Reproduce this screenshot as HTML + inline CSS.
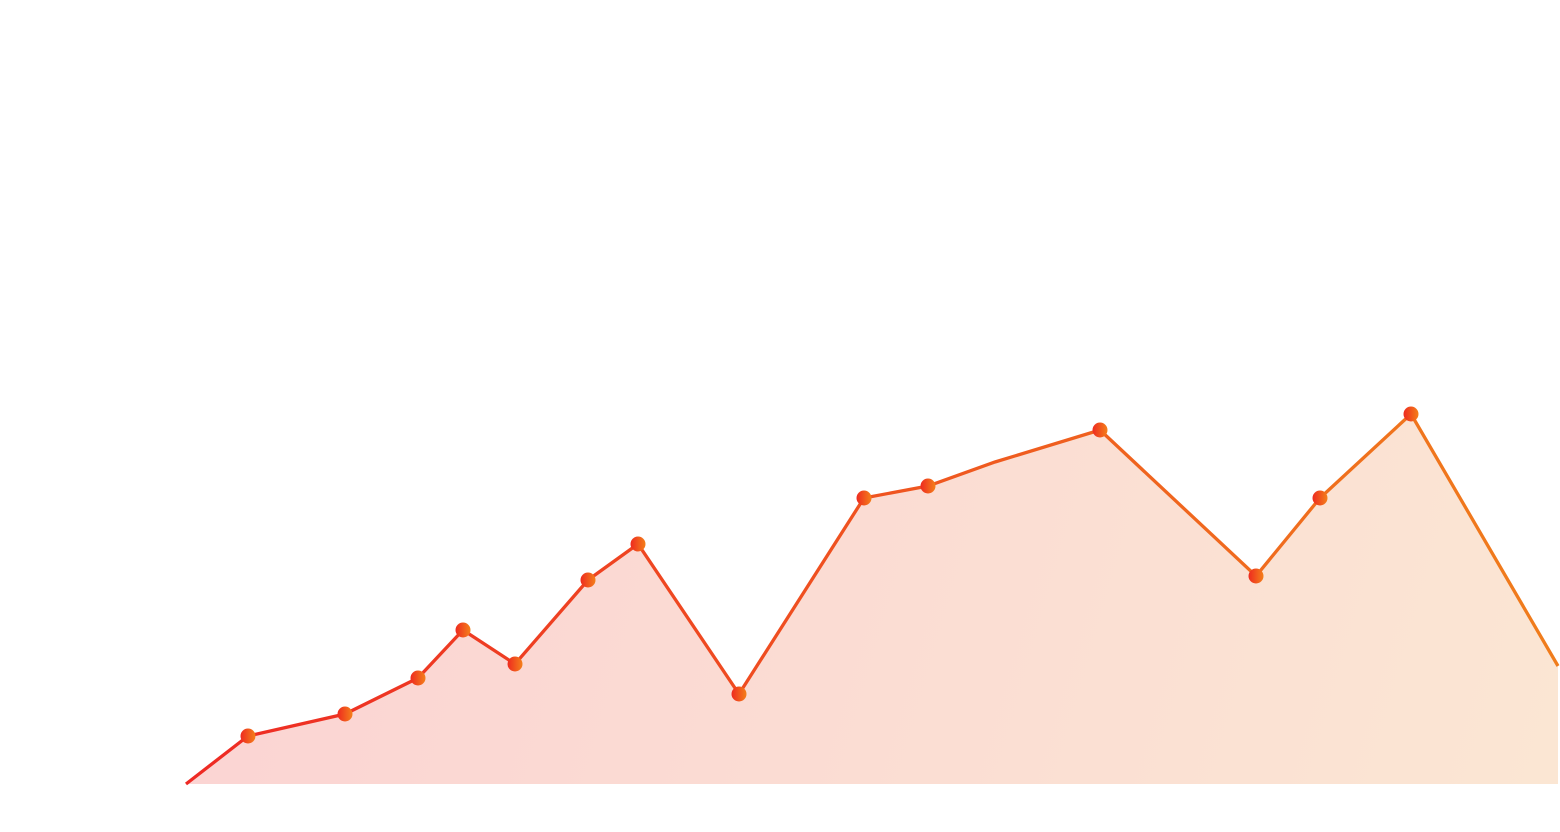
<!DOCTYPE html>
<html><head><meta charset="utf-8"><style>
html,body{margin:0;padding:0;background:#fff;width:1560px;height:832px;overflow:hidden}
svg{display:block}
</style></head><body>
<svg id="chart" width="1560" height="832" viewBox="0 0 1560 832">
<defs>
<linearGradient id="lineGrad" x1="186" y1="0" x2="1558" y2="0" gradientUnits="userSpaceOnUse">
<stop offset="0" stop-color="#ee2a24"/><stop offset="1" stop-color="#f07d1c"/>
</linearGradient>
<linearGradient id="areaGrad" x1="186" y1="400" x2="1558" y2="800" gradientUnits="userSpaceOnUse">
<stop offset="0" stop-color="#fbd3d3"/><stop offset="1" stop-color="#fbe6d3"/>
</linearGradient>
<linearGradient id="dotGrad" x1="0" y1="0" x2="1" y2="0">
<stop offset="0" stop-color="#ee2a20"/><stop offset="1" stop-color="#f4801a"/>
</linearGradient>
</defs>
<g id="plot"></g>
</svg>
<script>
const xValues = [0, 62, 159, 232, 277, 329, 402, 452, 553, 678, 742, 809, 914, 1070, 1134, 1225, 1372];
const yValues = [0, 12, 17.5, 26.5, 38.5, 30, 51, 60, 22.5, 71.5, 74.5, 80.5, 88.5, 52, 71.5, 92.5, 29.5];
const markerFlags = [0,1,1,1,1,1,1,1,1,1,1,0,1,1,1,1,0];

const NS = "http://www.w3.org/2000/svg";
const xScale = v => 186 + (v - 0) / 1372 * (1558 - 186);
const yScale = v => 784 - v / 196 * 784;
const g = document.getElementById('plot');

const pts = xValues.map((x,i)=>[xScale(x), yScale(yValues[i])]);
const lineD = pts.map((p,i)=>(i?'L':'M')+p[0].toFixed(1)+','+p[1].toFixed(1)).join(' ');
const areaD = lineD + ` L${pts[pts.length-1][0]},${yScale(0)} L${pts[0][0]},${yScale(0)} Z`;

const area = document.createElementNS(NS,'path');
area.setAttribute('d', areaD);
area.setAttribute('fill','url(#areaGrad)');


g.appendChild(area);

const line = document.createElementNS(NS,'path');
line.setAttribute('d', lineD);
line.setAttribute('fill','none');
line.setAttribute('stroke','url(#lineGrad)');
line.setAttribute('stroke-width','3.3');


g.appendChild(line);

pts.forEach((p,i)=>{
  if(!markerFlags[i]) return;
  const c = document.createElementNS(NS,'circle');
  c.setAttribute('cx', p[0]); c.setAttribute('cy', p[1]); c.setAttribute('r', 7.5);
  c.setAttribute('fill','url(#dotGrad)');
  
  
  g.appendChild(c);
});
</script>
</body></html>
